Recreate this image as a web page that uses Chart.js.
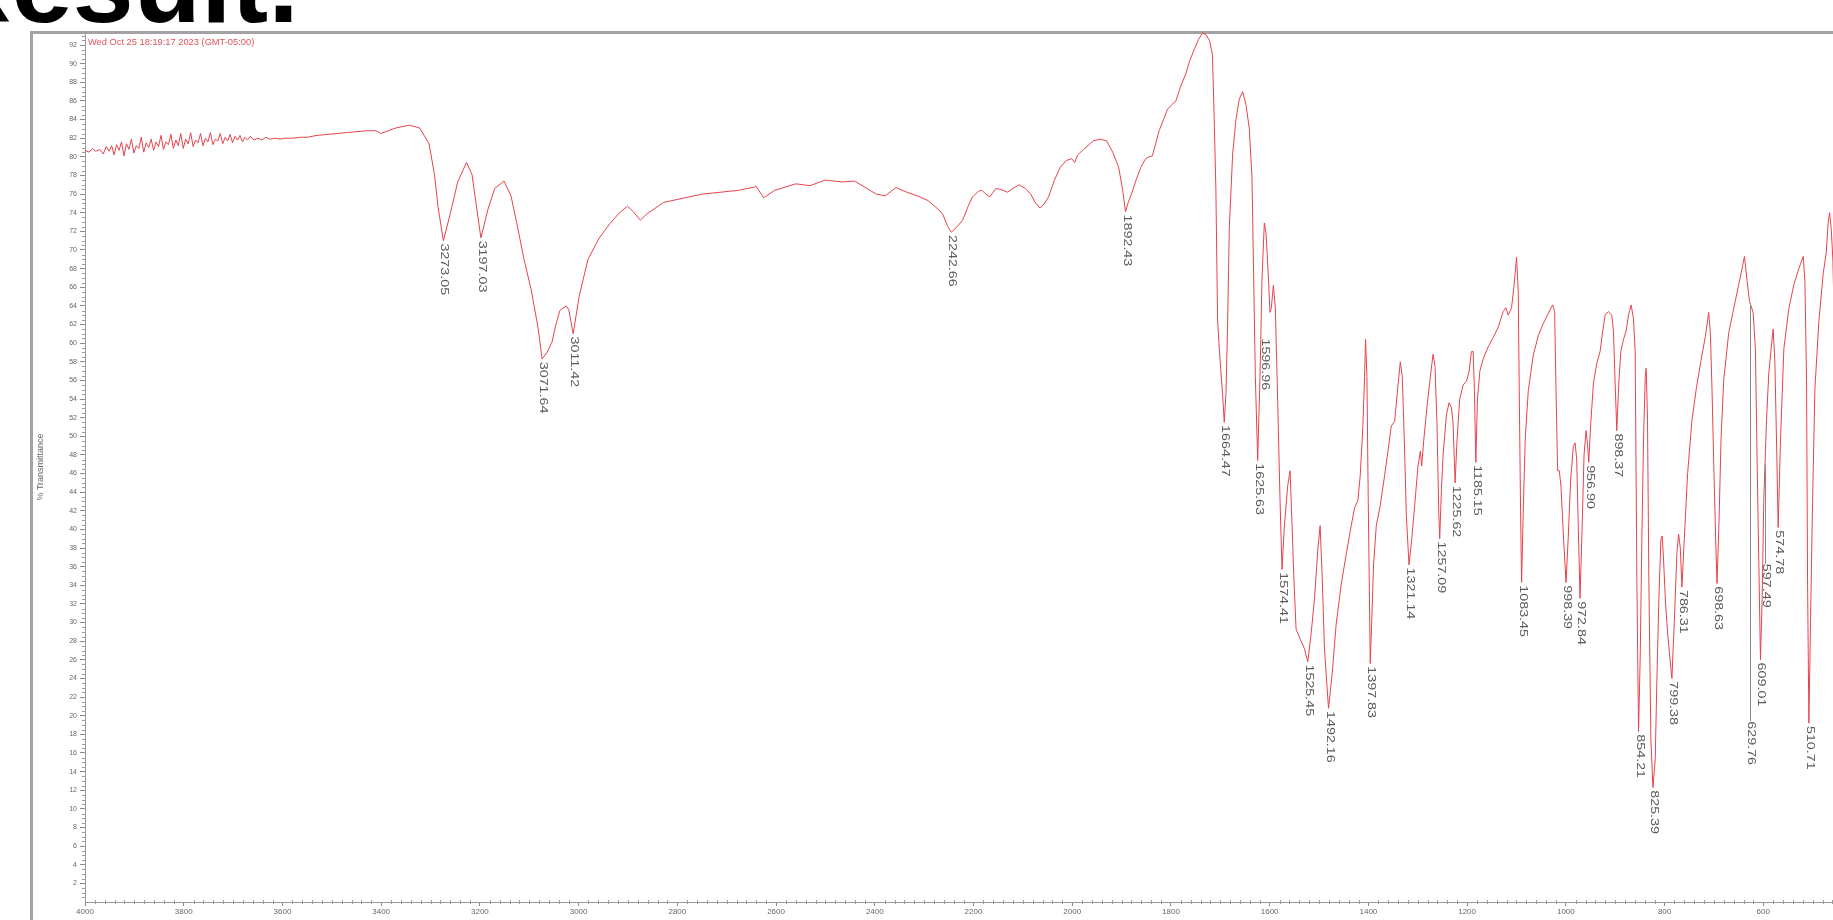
<!DOCTYPE html>
<html>
<head>
<meta charset="utf-8">
<script src="https://cdn.jsdelivr.net/npm/chart.js@4.4.1/dist/chart.umd.min.js"></script>
<style>
html,body{margin:0;padding:0;background:#fff;overflow:hidden;width:1833px;height:920px;}
#heading{position:absolute;left:-68px;top:-71px;font:bold 110px "Liberation Sans",Arial,sans-serif;line-height:110px;color:#000;white-space:nowrap;}
#frame{position:absolute;left:30px;top:31px;width:1900px;height:1000px;border-left:3px solid #a3a3a3;border-top:3px solid #a3a3a3;}
#wrap{position:absolute;left:0;top:0;width:1874px;height:920px;}
#stamp{position:absolute;left:88px;top:37px;font:9.3px "Liberation Sans",Arial,sans-serif;color:#e0505c;white-space:nowrap;line-height:11px;}
</style>
</head>
<body>
<div id="heading">Result.</div>
<div id="frame"></div>
<div id="wrap"><canvas id="c" width="1874" height="920"></canvas></div>
<div id="stamp">Wed Oct 25 18:19:17 2023 (GMT-05:00)</div>
<script>
// wavenumber (cm-1) and %T
const wavenumbers = [
4000,3992,3985,3978,3970,3963,3957,3951,3946,3941,3936,3931,3926,3921,3916,3911,3906,3901,3896,3891,
3886,3881,3876,3871,3866,3861,3856,3851,3846,3841,3836,3831,3826,3821,3816,3811,3806,3801,3796,3791,
3786,3781,3776,3771,3766,3761,3756,3751,3746,3741,3736,3731,3726,3721,3716,3711,3706,3701,3696,3691,
3686,3681,3676,3671,3665,3658,3650,3642,3634,3625,3615,3605,3595,3580,3565,3550,3530,3510,3490,3470,
3450,3430,3410,
3401,3370,3343,3322,3303,3292,3285,3274,3260,3245,3227,3216,3198,3184,3170,3151,3137,3125,3111,3096,
3082,3074,3064,3054,3046,3038,3025,3020,3011,2999,2981,2958,2937,2919,2901,2889,2875,2861,2828,2785,
2749,2676,2640,2625,2603,2560,2531,2501,2466,2441,2397,2379,2357,2335,2313,2292,2270,
2262,2252,2245,2235,2222,2210,2202,2190,2183,2175,2167,2160,2155,2145,2131,2120,2108,2095,2084,2074,
2065,2056,2048,2036,2024,2012,2001,1995,1989,1977,1968,1958,1944,1930,1918,1906,1898,1892,1886,1880,
1870,1860,1851,1844,
1837.6,1824,1815,1807,1798,1790,1780,1770,1762,1753,1744,1736,1729,1722,1716,1712.3,1709,1705.5,1702.2,1695.4,
1692,1688.6,1685.2,1681.8,1675,1668.3,1661.5,1654.8,1648,1641.2,1635.8,1632.4,1629,1624.3,1619.6,1615.5,1610.8,1607.4,1604,1599.3,
1596.6,1592.5,1588.5,1583.7,1579,1575,1570.2,1563.4,1558.7,1554.6,1551.2,1546.5,1536.3,1529.6,1522.8,1516,1509.3,1502.5,1497.8,1493.7,
1489,1480.8,1473.4,1465.3,1455.1,1445,1434.8,1428,1421.3,1416.5,1411.1,1407.8,1405.7,1403,1400.3,1396.2,1393.5,1389.5,1384,1375.9,
1367.1,1360.4,1353.6,1346.8,1342.1,1335.3,1331.3,1327.2,1323.1,1317.7,1312.3,1306.2,1299.5,1294.7,1292,1288,1281.2,1274.4,1269,1265,
1260.9,1257.5,1255.5,
1252.1,1248.7,1241.9,1236.5,1231.8,1228.4,1224.3,1220.3,1214.9,1208.1,1201.3,1195.9,1191.2,1187.8,1185.1,1182.4,1179,1174.2,1167.5,1157.3,
1147.2,1137,1126.9,1121.5,1116.7,1110,1105.2,1099.8,1096.4,1094.4,1091.7,1089.6,1086.3,1082.2,1076.1,1066,1055.8,1045.7,1035.5,1026.7,
1022.6,1019.9,1016.6,1013.2,1009.8,1005,999.6,994.9,990.2,984.8,981.4,978,974.6,971.2,967.2,963.1,959,956.3,953.6,949.5,
944.1,937.4,930.6,925.2,920.4,913.7,906.9,903.5,900.1,896.8,892.7,888.6,883.2,877.8,873.1,867.7,862.9,859.5,
856.1,852.7,849.4,846,842.6,839.2,837.2,834.5,831.8,827.7,823.6,818.9,815.5,811.5,807.4,804.7,802,797.9,793.9,789.8,
785.1,780.3,774.9,771.5,768.1,764.8,760,753.3,744.5,735.7,726.2,717.4,710.6,707.2,703.9,700.5,696.4,693.7,689.6,685.6,
680.2,670,659.9,649.7,643,638.2,632.8,628,620.6,615.9,612.5,609.1,605.7,602.3,599,593.5,588.8,584.1,580,576.6,
573.2,569.8,565.1,558.3,548.2,538,527.9,519.1,515.7,512.3,510.3,507.6,504.2,500.1,495.4,487.3,478.5,472.4,468.3,465.6,
462.2,458.9,455.5,452.1,445,430,415,400
];
const transmittance = [
80.7,80.5,80.9,80.6,80.8,80.3,81.1,80.6,81.2,80.2,81.3,80.7,81.6,80.1,81.4,80.8,81.9,80.4,81.2,80.9,
82.1,80.5,81.5,81.0,81.9,80.7,81.6,81.1,82.3,80.8,81.6,81.3,82.4,80.9,81.8,81.2,82.5,80.9,81.9,81.4,
82.6,81.1,81.8,81.5,82.5,81.2,82.0,81.6,82.6,81.3,81.9,81.7,82.5,81.4,82.1,81.7,82.4,81.5,82.2,81.8,
82.3,81.6,82.1,81.8,82.2,81.8,82.0,81.8,82.1,81.9,82.0,81.9,82.0,82.0,82.1,82.1,82.3,82.4,82.5,82.6,
82.7,82.8,82.8,
82.5,83.1,83.4,83.1,81.4,78.1,74.7,71.0,73.9,77.3,79.4,78.1,71.3,74.3,76.6,77.4,75.8,72.8,69.1,65.7,
61.6,58.3,59.0,60.1,62.0,63.5,64.0,63.6,61.0,65.0,69.0,71.3,72.8,73.9,74.7,74.1,73.2,73.9,75.1,75.6,
76.0,76.4,76.8,75.6,76.4,77.1,76.9,77.5,77.3,77.4,76.0,75.8,76.7,76.2,75.8,75.3,74.3,
73.8,72.5,71.9,72.4,73.2,74.8,75.7,76.3,76.4,76.0,75.7,76.2,76.6,76.5,76.2,76.6,77.0,76.6,76.0,75.0,
74.5,75.0,75.7,77.5,78.9,79.6,79.8,79.4,80.2,80.8,81.2,81.7,81.9,81.7,80.5,78.9,76.5,74.1,75.2,76.0,
77.6,79.0,79.8,80.0,
80.1,82.8,84.0,85.1,85.6,86.0,87.6,88.9,90.3,91.5,92.6,93.3,93.1,92.5,91.0,84.0,76.6,62.5,59.5,54.5,
51.5,54.5,62.0,72.3,80.3,84.0,86.2,87.0,85.6,83.0,77.7,67.0,56.4,47.4,56.4,67.0,72.9,71.8,68.6,63.3,
63.8,66.2,63.8,53.7,43.1,35.7,40.4,44.7,46.3,40.4,35.1,29.3,28.0,27.2,25.8,28.8,32.5,37.8,40.4,35.1,
27.2,20.8,24.5,29.8,34.1,37.3,40.4,42.3,43.1,45.8,51.1,56.4,60.4,56.4,43.1,25.6,29.8,36.2,40.4,42.6,
45.8,48.4,51.1,51.6,54.3,58.0,56.4,49.5,41.5,36.2,38.9,42.6,46.8,48.4,46.8,49.5,53.2,56.4,58.8,57.5,
51.1,42.0,39.0,
44.2,48.0,52.3,53.6,53.1,51.4,45.0,49.7,54.0,55.5,55.9,57.0,59.1,59.1,54.9,47.2,54.0,57.0,58.3,59.6,
60.6,61.7,63.4,63.8,63.0,63.8,66.0,69.2,65.6,54.9,42.0,34.3,42.0,49.7,54.9,58.7,60.8,62.1,63.2,64.1,
63.4,54.9,46.3,46.3,44.6,39.4,34.3,39.4,45.4,48.9,49.3,47.6,39.9,32.6,39.9,48.0,50.6,49.3,47.2,51.4,
55.7,57.8,59.1,61.3,63.0,63.4,63.0,61.3,55.7,50.6,55.7,59.1,60.4,61.3,63.0,64.1,62.6,59.1,
34.6,18.3,26.0,38.9,49.6,56.4,57.3,51.7,34.6,17.5,12.3,15.3,23.9,32.5,38.9,39.3,36.7,32.0,29.0,26.5,
24.0,30.0,37.5,39.5,38.0,33.8,39.0,46.0,51.7,55.1,58.1,60.7,63.3,61.1,55.1,47.4,38.9,34.2,41.0,49.6,
56.0,61.1,63.7,66.3,68.0,69.3,66.7,64.5,63.3,59.4,47.4,36.7,26.0,32.5,43.1,51.7,56.8,59.4,61.5,58.1,
49.6,40.2,49.6,59.4,63.7,66.3,68.0,69.3,66.7,56.0,34.6,19.2,30.3,43.1,55.1,62.4,67.5,69.7,73.1,74.0,
72.2,68.8,60.3,51.7,40.0,38.0,45.0,50.0
];
const xTickValues = [4000,3800,3600,3400,3200,3000,2800,2600,2400,2200,2000,1800,1600,1400,1200,1000,800,600];
const yTickValues = [2,4,6,8,10,12,14,16,18,20,22,24,26,28,30,32,34,36,38,40,42,44,46,48,50,52,54,56,58,60,62,64,66,68,70,72,74,76,78,80,82,84,86,88,90,92];

// peak labels: text, wavenumber of label, %T where label starts, %T where a leader line starts (or null)
const peakLabelText = ["3273.05","3197.03","3071.64","3011.42","2242.66","1892.43","1664.47","1625.63","1596.96","1574.41","1525.45","1492.16","1397.83","1321.14","1257.09","1225.62","1185.15","1083.45","998.39","972.84","956.90","898.37","854.21","825.39","799.38","786.31","698.63","629.76","609.01","597.49","574.78","510.71"];
const peakLabelX = [3274,3198,3074,3011,2245,1892,1692,1624.3,1612,1575,1522.8,1480.8,1396.2,1317.7,1255.5,1224.3,1182.4,1089.6,999.6,971.2,953.6,896.8,852.7,823.6,785.1,764.8,693.7,626.5,605.7,595.6,569.8,507.6];
const peakLabelY = [70.7,71.0,58.0,60.7,71.6,73.8,51.2,47.1,60.5,35.4,25.5,20.5,25.3,35.9,38.7,44.7,46.9,34.0,34.0,32.3,46.9,50.3,18.0,12.0,23.7,33.5,33.9,19.4,25.7,36.3,39.9,18.9];
const leaderFromY = [null,null,null,null,null,null,null,null,null,null,null,null,null,null,null,null,null,null,null,null,null,null,null,null,null,null,null,64.3,null,47.0,null,null];

const points = wavenumbers.map((w, i) => ({x: w, y: transmittance[i]}));
const FONT = '"Liberation Sans", Arial, sans-serif';

const minorTicks = {
  id: 'minorTicks',
  afterDraw(chart) {
    const {ctx, scales: {x, y}, chartArea} = chart;
    ctx.save();
    ctx.strokeStyle = '#9a9a9a';
    ctx.lineWidth = 1;
    for (let v = 420; v < 4000; v += 20) {
      if (v % 200 === 0) continue;
      const px = Math.round(x.getPixelForValue(v)) + 0.5;
      ctx.beginPath(); ctx.moveTo(px, chartArea.bottom - 2); ctx.lineTo(px, chartArea.bottom + 2); ctx.stroke();
    }
    for (let v = 0.5; v <= 93; v += 0.5) {
      if (v % 2 === 0) continue;
      const py = Math.round(y.getPixelForValue(v)) + 0.5;
      ctx.beginPath(); ctx.moveTo(chartArea.left - 3, py); ctx.lineTo(chartArea.left, py); ctx.stroke();
    }
    ctx.restore();
  }
};

const peakLabels = {
  id: 'peakLabels',
  afterDatasetsDraw(chart) {
    const {ctx, scales: {x, y}} = chart;
    ctx.save();
    ctx.font = '11px ' + FONT;
    ctx.fillStyle = '#5a5a5a';
    ctx.strokeStyle = '#8a8a8a';
    ctx.lineWidth = 1;
    peakLabelText.forEach((t, i) => {
      const px = x.getPixelForValue(peakLabelX[i]);
      const py = y.getPixelForValue(peakLabelY[i]);
      if (leaderFromY[i] !== null) {
        const ly = y.getPixelForValue(leaderFromY[i]);
        ctx.beginPath(); ctx.moveTo(Math.round(px) + 0.5, ly); ctx.lineTo(Math.round(px) + 0.5, py); ctx.stroke();
      }
      ctx.save();
      ctx.translate(px, py);
      ctx.rotate(Math.PI / 2);
      ctx.scale(1.3, 1);
      ctx.textAlign = 'left';
      ctx.textBaseline = 'alphabetic';
      ctx.fillText(t, 0, 2);
      ctx.restore();
    });
    ctx.restore();
  }
};

new Chart(document.getElementById('c'), {
  type: 'line',
  data: {
    datasets: [{
      data: points,
      borderColor: 'rgb(232,66,76)',
      borderWidth: 1,
      pointRadius: 0,
      tension: 0,
      fill: false
    }]
  },
  options: {
    responsive: false,
    animation: false,
    devicePixelRatio: 1,
    layout: {padding: {left: 31, top: 32, right: 12, bottom: 0}},
    plugins: {legend: {display: false}, tooltip: {enabled: false}},
    scales: {
      x: {
        type: 'linear',
        reverse: true,
        min: 400,
        max: 4000,
        afterBuildTicks: s => { s.ticks = xTickValues.map(v => ({value: v})); },
        afterFit: s => { s.height = 18; },
        border: {display: true, color: '#9a9a9a', width: 1},
        grid: {display: true, drawOnChartArea: false, drawTicks: true, tickLength: 4, color: '#8a8a8a'},
        ticks: {font: {size: 8, family: FONT}, color: '#666', padding: 1, maxRotation: 0, autoSkip: false, callback: v => String(v)}
      },
      y: {
        type: 'linear',
        min: 0,
        max: 93.4,
        afterBuildTicks: s => { s.ticks = yTickValues.map(v => ({value: v})); },
        afterFit: s => { s.width = 54; },
        border: {display: true, color: '#9a9a9a', width: 1},
        grid: {display: true, drawOnChartArea: false, drawTicks: true, tickLength: 5, color: '#8a8a8a'},
        ticks: {font: {size: 7, family: FONT}, color: '#666', padding: 3, autoSkip: false, callback: v => String(v)},
        title: {display: true, text: '% Transmittance', font: {size: 9, family: FONT}, color: '#666', padding: {top: 4, bottom: 0}}
      }
    }
  },
  plugins: [minorTicks, peakLabels]
});
</script>
</body>
</html>
